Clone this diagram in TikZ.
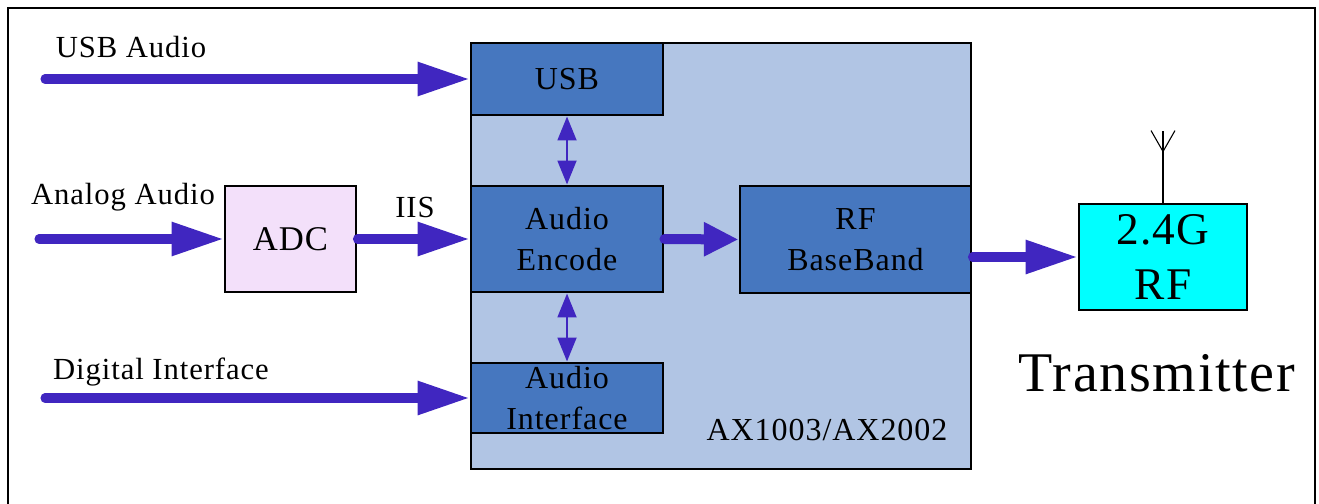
\documentclass[tikz,border=0pt]{standalone}
\usepackage{fontspec}
\setmainfont{Liberation Serif}[LetterSpace=3]
\usetikzlibrary{arrows.meta, positioning, calc}

\definecolor{sigpurple}{RGB}{64,38,192}
\definecolor{chipblue}{RGB}{177,197,228}
\definecolor{blockblue}{RGB}{70,119,191}
\definecolor{adcpink}{RGB}{243,224,250}
\definecolor{rfcyan}{RGB}{0,255,255}

\begin{document}
\begin{tikzpicture}[x=0.75pt, y=-0.75pt,
    block/.style={draw, line width=2.2pt, fill=blockblue, align=center, inner sep=0pt,
        minimum width=144pt, font=\fontsize{24}{31}\selectfont},
    sigarrow/.style={line width=6.8pt, sigpurple, line cap=round,
        -{Triangle[length=39pt, width=24pt]}},
    busarrow/.style={line width=2.2pt, sigpurple,
        {Triangle[length=18pt, width=14pt]}-{Triangle[length=18pt, width=14pt]}},
    lbl/.style={font=\fontsize{23}{31}\selectfont}]
    \useasboundingbox (0,0) rectangle (1319,503);

    % Outer frame
    \draw[line width=2.2pt] (8,530) -- (8,8) -- (1315,8) -- (1315,530);

    % Chip and its blocks
    \node[draw, line width=2.2pt, fill=chipblue, minimum width=375pt, minimum height=319.5pt] (chip) at (721,256) {};
    \node[block, minimum height=54pt] (usb) at (567,79) {USB};
    \node[block, minimum height=79.5pt] (enc) at (567,239) {Audio\\Encode};
    \node[block, minimum height=52.5pt] (aif) at (567,398) {Audio\\Interface};
    \node[block, minimum width=173.25pt, minimum height=80.25pt] (rfbb) at (855.5,239.5) {RF\\BaseBand};
    \node[lbl, font=\fontsize{24}{31}\selectfont] (chipname) at (827,430) {AX1003/AX2002};

    % Outside blocks
    \node[draw, line width=2.2pt, fill=adcpink, minimum width=98.25pt, minimum height=79.5pt,
        font=\fontsize{26}{31}\selectfont] (adc) at (290.5,239) {ADC};
    \node[draw, line width=2.2pt, fill=rfcyan, minimum width=126pt, minimum height=79.5pt,
        align=center, font=\fontsize{34}{41}\selectfont] (rf) at (1163,257) {2.4G\\RF};
    \node[font=\fontsize{42}{48}\selectfont] (tx) at (1157,373) {Transmitter};

    % Antenna
    \coordinate (ant) at ($(rf.north)+(0,-72)$);
    \draw[line width=0.8pt] (rf.north) -- (ant);
    \draw[line width=0.8pt] ($(ant)+(-12,0)$) -- ($(ant)+(0,21)$) -- ($(ant)+(12,0)$);

    % Inputs
    \coordinate (usbin) at (45,79);
    \coordinate (anain) at (39,239);
    \coordinate (digin) at (45,398);
    \node[lbl] (usblbl) at (131,47) {USB Audio};
    \node[lbl] (analbl) at (123,197) {Analog Audio};
    \node[lbl] (diglbl) at (161,372) {Digital Interface};
    \node[lbl] (iislbl) at (415,207) {IIS};

    \draw[sigarrow] (usbin) -- (usb.west);
    \draw[sigarrow] (anain) -- (adc.west);
    \draw[sigarrow] (adc.east) -- (enc.west);
    \draw[sigarrow] (digin) -- (aif.west);

    % Internal paths
    \draw[busarrow] (usb.south) -- (enc.north);
    \draw[busarrow] (enc.south) -- (aif.north);
    \draw[sigarrow, line width=7.5pt, -{Triangle[length=26pt, width=24pt]}] (enc.east) -- (rfbb.west);
    \draw[sigarrow] (rfbb.east |- rf.west) -- (rf.west);
\end{tikzpicture}
\end{document}
